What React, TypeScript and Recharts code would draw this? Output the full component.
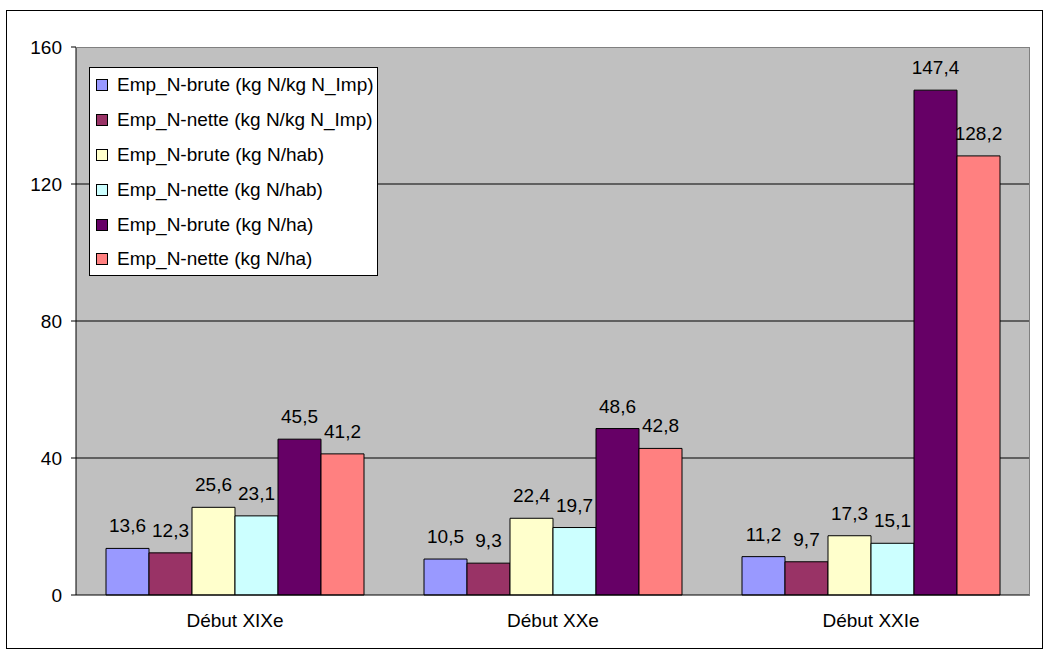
import React from 'react';
import { BarChart, Bar, XAxis, YAxis, CartesianGrid, LabelList } from 'recharts';

const categories = ['Début XIXe', 'Début XXe', 'Début XXIe'];

const seriesNames = [
  'Emp_N-brute (kg N/kg N_Imp)',
  'Emp_N-nette (kg N/kg N_Imp)',
  'Emp_N-brute (kg N/hab)',
  'Emp_N-nette (kg N/hab)',
  'Emp_N-brute (kg N/ha)',
  'Emp_N-nette (kg N/ha)',
];

const seriesColors = ['#9999FF', '#993366', '#FFFFCC', '#CCFFFF', '#660066', '#FF8080'];

const bruteImp = [13.6, 10.5, 11.2];
const netteImp = [12.3, 9.3, 9.7];
const bruteHab = [25.6, 22.4, 17.3];
const netteHab = [23.1, 19.7, 15.1];
const bruteHa = [45.5, 48.6, 147.4];
const netteHa = [41.2, 42.8, 128.2];

const yTicks = [0, 40, 80, 120, 160];

const seriesValues = [bruteImp, netteImp, bruteHab, netteHab, bruteHa, netteHa];

const data = categories.map((name, i) => {
  const row: Record<string, string | number> = { name };
  seriesValues.forEach((vals, s) => {
    row['s' + s] = vals[i];
  });
  return row;
});

const FONT = '"Liberation Sans", Arial, sans-serif';

const fmt = (v: any) => String(v).replace('.', ',');

export default function App() {
  return (
    <div
      style={{
        position: 'absolute',
        left: 0,
        top: 0,
        width: 1048,
        height: 655,
        background: '#fff',
        fontFamily: FONT,
      }}
    >
      {/* outer frame */}
      <div
        style={{
          position: 'absolute',
          left: 6,
          top: 10,
          width: 1035,
          height: 637,
          border: '1px solid #000',
        }}
      />
      <div style={{ position: 'absolute', left: 0, top: 0 }}>
        <BarChart
          width={1048}
          height={655}
          data={data}
          margin={{ top: 47, right: 18, bottom: 30, left: 16 }}
          barCategoryGap={30}
          barGap={0}
        >
          <CartesianGrid
            vertical={false}
            stroke="#000"
            fill="#C0C0C0"
            fillOpacity={1}
            horizontalValues={[40, 80, 120]}
          />
          <XAxis
            xAxisId="bounds"
            type="number"
            domain={[0, 3]}
            ticks={[0, 1, 2, 3]}
            tick={false}
            tickSize={5}
            axisLine={false}
            tickLine={{ stroke: '#000' }}
            height={0}
          />
          <XAxis
            dataKey="name"
            height={30}
            tickLine={false}
            tickSize={0}
            tickMargin={19}
            axisLine={{ stroke: '#000' }}
            tick={{ fill: '#000', fontSize: 19, fontFamily: FONT }}
          />
          <YAxis
            domain={[0, 160]}
            ticks={yTicks}
            width={60}
            tickSize={5}
            tickMargin={9}
            axisLine={{ stroke: '#000' }}
            tickLine={{ stroke: '#000' }}
            tick={{ fill: '#000', fontSize: 19, fontFamily: FONT }}
          />
          {seriesNames.map((n, s) => (
            <Bar
              key={n}
              dataKey={'s' + s}
              name={n}
              fill={seriesColors[s]}
              stroke="#000"
              strokeWidth={1}
              isAnimationActive={false}
            >
              <LabelList
                dataKey={'s' + s}
                position="top"
                offset={16}
                formatter={fmt}
                style={{ fill: '#000', fontSize: 19, fontFamily: FONT }}
              />
            </Bar>
          ))}
        </BarChart>
      </div>
      {/* plot area border (top / right) */}
      <div
        style={{
          position: 'absolute',
          left: 76,
          top: 47,
          width: 954,
          height: 548,
          borderTop: '1px solid #808080',
          borderRight: '1px solid #808080',
          boxSizing: 'border-box',
          pointerEvents: 'none',
        }}
      />
      {/* legend */}
      <div
        style={{
          position: 'absolute',
          left: 89,
          top: 67,
          width: 289,
          height: 209,
          boxSizing: 'border-box',
          background: '#fff',
          border: '1px solid #000',
        }}
      >
        {seriesNames.map((n, s) => (
          <div
            key={n}
            style={{
              display: 'flex',
              alignItems: 'center',
              height: 34.8,
              paddingLeft: 6,
              fontSize: 19,
              color: '#000',
              whiteSpace: 'nowrap',
            }}
          >
            <span
              style={{
                display: 'inline-block',
                width: 10,
                height: 10,
                background: seriesColors[s],
                border: '1px solid #000',
                marginRight: 9,
              }}
            />
            {n}
          </div>
        ))}
      </div>
    </div>
  );
}
